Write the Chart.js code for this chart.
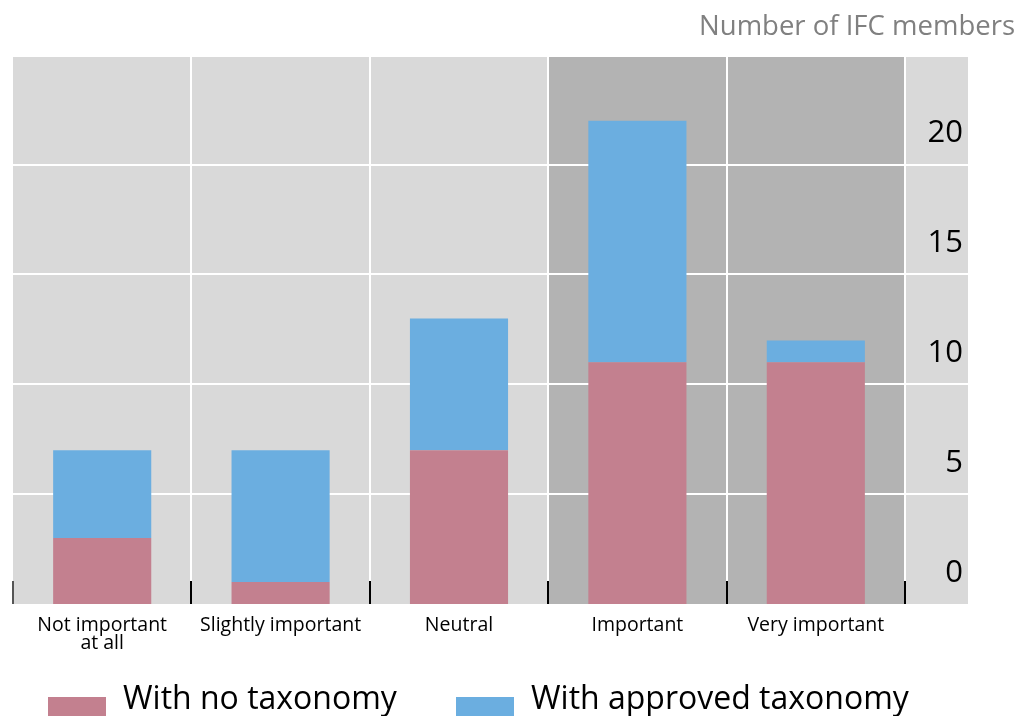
<!DOCTYPE html>
<html>
<head>
<meta charset="utf-8">
<script src="https://cdn.jsdelivr.net/npm/chart.js@4/dist/chart.umd.min.js"></script>
<style>
  html, body { margin: 0; padding: 0; background: #ffffff; }
  canvas { display: block; }
</style>
</head>
<body>
<canvas id="chart" width="1022" height="716"></canvas>
<script>
// Importance ratings and member counts
const categories = [["Not important", "at all"], "Slightly important", "Neutral", "Important", "Very important"];
const noTaxonomy = [3, 1, 7, 11, 11];
const approvedTaxonomy = [4, 6, 6, 11, 1];
const yTickValues = [0, 5, 10, 15, 20];
const seriesNames = ["With no taxonomy", "With approved taxonomy"];
const highlighted = [3, 4]; // categories on the darker band
const axisTitle = "Number of IFC members";

const COLORS = {
  red: "#c3808f",
  blue: "#6baee0",
  band: "#d9d9d9",
  bandDark: "#b3b3b3",
  grid: "#ffffff",
  tick: "#000000",
  title: "#808080",
  text: "#000000"
};
const FONT = "'Open Sans', 'Noto Sans', sans-serif";
const Y_AXIS_WIDTH = 63;   // band to the right of the plot that holds the value labels
const Y_LABEL_INSET = 5;

const backdrop = {
  id: "backdrop",
  beforeDraw(chart) {
    const { ctx, chartArea: a, scales: { x, y } } = chart;
    const right = a.right + Y_AXIS_WIDTH;
    const half = (x.getPixelForValue(1) - x.getPixelForValue(0)) / 2;
    ctx.save();
    // background bands
    ctx.fillStyle = COLORS.band;
    ctx.fillRect(a.left, a.top, right - a.left, a.bottom - a.top);
    ctx.fillStyle = COLORS.bandDark;
    highlighted.forEach(i => {
      const cx = x.getPixelForValue(i);
      ctx.fillRect(cx - half, a.top, half * 2, a.bottom - a.top);
    });
    // horizontal grid
    ctx.strokeStyle = COLORS.grid;
    ctx.lineWidth = 2;
    yTickValues.slice(1).forEach(v => {
      const py = Math.round(y.getPixelForValue(v));
      ctx.beginPath();
      ctx.moveTo(a.left, py);
      ctx.lineTo(right, py);
      ctx.stroke();
    });
    // vertical grid + tick marks at category boundaries
    const tickTop = a.bottom - 23;
    for (let i = 0; i <= categories.length; i++) {
      const px = Math.round(x.getPixelForValue(i) - half);
      if (i > 0) {
        ctx.strokeStyle = COLORS.grid;
        ctx.beginPath();
        ctx.moveTo(px, a.top);
        ctx.lineTo(px, tickTop);
        ctx.stroke();
      }
      ctx.strokeStyle = i === 0 ? "#555555" : COLORS.tick;
      ctx.beginPath();
      ctx.moveTo(px, tickTop);
      ctx.lineTo(px, a.bottom);
      ctx.stroke();
    }
    ctx.restore();
  },
  afterDraw(chart) {
    const { ctx } = chart;
    ctx.save();
    // axis title
    ctx.fillStyle = COLORS.title;
    ctx.font = "27.5px " + FONT;
    ctx.textAlign = "right";
    ctx.textBaseline = "alphabetic";
    ctx.fillText(axisTitle, 1015, 35);
    // legend
    const items = [
      { name: seriesNames[0], color: COLORS.red, x: 48 },
      { name: seriesNames[1], color: COLORS.blue, x: 456 }
    ];
    ctx.font = "32px " + FONT;
    ctx.textAlign = "left";
    items.forEach(it => {
      ctx.fillStyle = it.color;
      ctx.fillRect(it.x, 697, 58, 19);
      ctx.fillStyle = COLORS.text;
      ctx.fillText(it.name, it.x + 75, 709);
    });
    ctx.restore();
  }
};

new Chart(document.getElementById("chart"), {
  type: "bar",
  data: {
    labels: categories,
    datasets: [
      { label: seriesNames[0], data: noTaxonomy, backgroundColor: COLORS.red, borderWidth: 0,
        barPercentage: 0.55, categoryPercentage: 1.0 },
      { label: seriesNames[1], data: approvedTaxonomy, backgroundColor: COLORS.blue, borderWidth: 0,
        barPercentage: 0.55, categoryPercentage: 1.0 }
    ]
  },
  options: {
    responsive: false,
    animation: false,
    layout: { padding: { left: 13, top: 57, right: 1022 - 968 + Y_LABEL_INSET, bottom: 0 } },
    plugins: {
      legend: { display: false },
      title: { display: false },
      tooltip: { enabled: false }
    },
    scales: {
      x: {
        stacked: true,
        grid: { display: false, drawTicks: false },
        border: { display: false },
        ticks: {
          color: COLORS.text,
          padding: 13,
          maxRotation: 0,
          autoSkip: false,
          font: { family: FONT, size: 19.5, lineHeight: 0.9 }
        },
        afterFit(scale) { scale.height = 112; }
      },
      y: {
        stacked: true,
        position: "right",
        min: 0,
        max: 24.9,
        grid: { display: false, drawTicks: false },
        border: { display: false },
        ticks: {
          stepSize: 5,
          color: COLORS.text,
          crossAlign: "far",
          labelOffset: -31,
          font: { family: FONT, size: 31 },
          callback: v => (yTickValues.includes(v) ? String(v) : "")
        },
        afterFit(scale) { scale.width = Y_AXIS_WIDTH - Y_LABEL_INSET; }
      }
    }
  },
  plugins: [backdrop]
});
</script>
</body>
</html>
